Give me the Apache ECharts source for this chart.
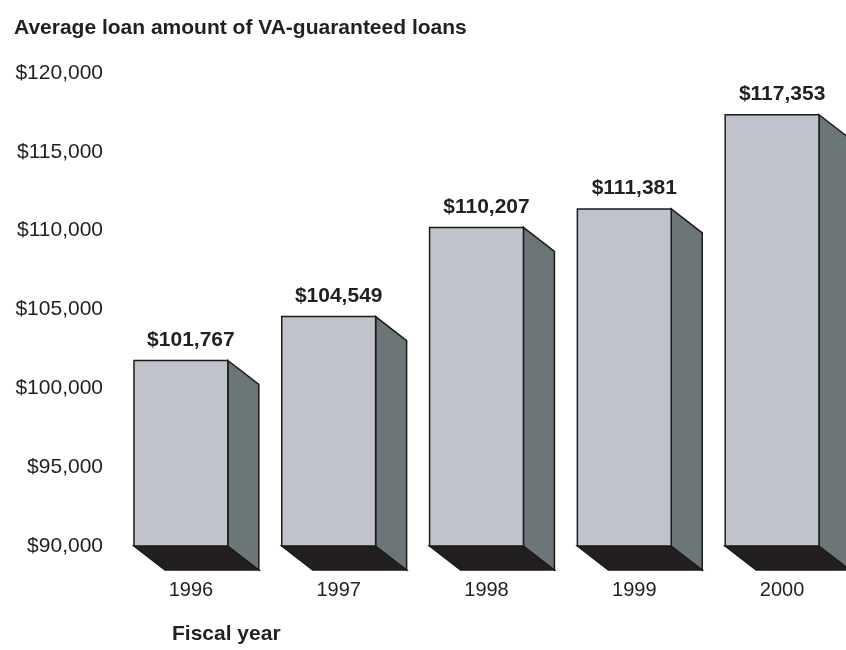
<!DOCTYPE html>
<html>
<head>
<meta charset="utf-8">
<script src="https://cdn.jsdelivr.net/npm/echarts@6/dist/echarts.min.js"></script>
<style>
  html, body { margin: 0; padding: 0; background: #fff; }
  #chart { width: 846px; height: 650px; }
</style>
</head>
<body>
<div id="chart"></div>
<script>
var years = ['1996', '1997', '1998', '1999', '2000'];
var avgLoan = [101767, 104549, 110207, 111381, 117353];
var yTicks = [90000, 95000, 100000, 105000, 110000, 115000, 120000];

var FONT = '"Liberation Sans", Arial, Helvetica, sans-serif';
var DX = 31, DY = 24;   // depth of the fake 3d block

function money(v) {
    return '$' + String(v).replace(/\B(?=(\d{3})+(?!\d))/g, ',');
}

function renderBlock(params, api) {
    var top = api.coord([api.value(0), api.value(1)]);
    var base = api.coord([api.value(0), yTicks[0]]);
    var w = api.size([1, 0])[0] * 0.635;
    var x0 = top[0] - w / 2, x1 = top[0] + w / 2;
    var y0 = top[1], y1 = base[1];
    var edge = { stroke: '#1a1a1a', lineWidth: 1.5, lineJoin: 'miter' };
    return {
        type: 'group',
        children: [
            {
                type: 'polygon',
                shape: { points: [[x0, y1], [x1, y1], [x1 + DX, y1 + DY], [x0 + DX, y1 + DY]] },
                style: Object.assign({ fill: '#231f20' }, edge)
            },
            {
                type: 'polygon',
                shape: { points: [[x1, y0], [x1 + DX, y0 + DY], [x1 + DX, y1 + DY], [x1, y1]] },
                style: Object.assign({ fill: '#6c7578' }, edge)
            },
            {
                type: 'rect',
                shape: { x: x0, y: y0, width: w, height: y1 - y0 },
                style: Object.assign({ fill: '#c0c3cb' }, edge)
            },
            {
                type: 'text',
                x: top[0] + 10,
                y: y0 - 10,
                style: {
                    text: money(api.value(1)),
                    fill: '#231f20',
                    font: 'bold 21px ' + FONT,
                    align: 'center',
                    verticalAlign: 'bottom'
                }
            }
        ]
    };
}

var chart = echarts.init(document.getElementById('chart'));
chart.setOption({
    animation: false,
    backgroundColor: '#ffffff',
    title: [
        {
            text: 'Average loan amount of VA-guaranteed loans',
            left: 9, top: 13,
            textStyle: { fontFamily: FONT, fontWeight: 'bold', fontSize: 21, color: '#231f20' }
        },
        {
            text: 'Fiscal year',
            left: 167, top: 619,
            textStyle: { fontFamily: FONT, fontWeight: 'bold', fontSize: 21, color: '#231f20' }
        }
    ],
    grid: { left: 107, right: 0, top: 73, bottom: 104 },
    xAxis: {
        type: 'category',
        data: years,
        axisLine: { show: false },
        axisTick: { show: false },
        axisLabel: {
            margin: 34,
            padding: [0, 0, 0, 20],
            fontFamily: FONT, fontSize: 20, color: '#231f20'
        }
    },
    yAxis: {
        type: 'value',
        min: yTicks[0],
        max: yTicks[yTicks.length - 1],
        interval: 5000,
        axisLine: { show: false },
        axisTick: { show: false },
        splitLine: { show: false },
        axisLabel: {
            margin: 4,
            fontFamily: FONT, fontSize: 21, color: '#231f20',
            formatter: function (v) { return money(v); }
        }
    },
    series: [{
        type: 'custom',
        renderItem: renderBlock,
        clip: false,
        data: years.map(function (y, i) { return [i, avgLoan[i]]; })
    }]
});
</script>
</body>
</html>
